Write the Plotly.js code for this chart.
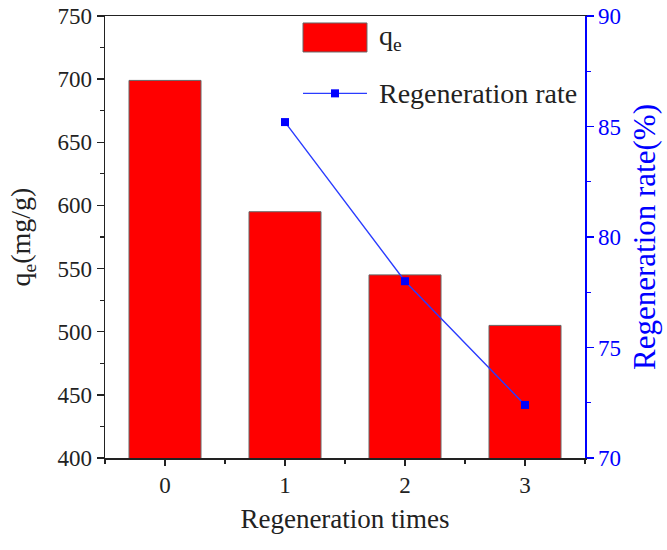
<!DOCTYPE html>
<html>
<head>
<meta charset="utf-8">
<script src="https://cdn.plot.ly/plotly-3.0.1.min.js"></script>
<style>html,body{margin:0;padding:0;background:#fff;}</style>
</head>
<body>
<div id="chart" style="width:667px;height:550px;"></div>
<script>
const times = [0, 1, 2, 3];
const qe = [699, 595, 545, 505];
const rateTimes = [1, 2, 3];
const regenRate = [85.2, 78.0, 72.4];

const FONT = '"Liberation Serif", "Times New Roman", serif';

const traces = [
  {
    type: 'bar', x: times, y: qe, name: 'q<sub>e</sub>',
    marker: {color: '#ff0000', line: {color: '#666666', width: 1}},
    showlegend: false, yaxis: 'y'
  },
  {
    type: 'scatter', mode: 'lines+markers', x: rateTimes, y: regenRate,
    name: 'Regeneration rate', yaxis: 'y2',
    line: {color: '#2a3cff', width: 1.4},
    marker: {symbol: 'square', size: 8, color: '#0000ff'},
    showlegend: false
  }
];

const layout = {
  width: 667, height: 550,
  margin: {l: 105, r: 82, t: 16, b: 92},
  paper_bgcolor: '#fff', plot_bgcolor: '#fff',
  font: {family: FONT, color: '#222'},
  bargap: 0.4,
  xaxis: {
    range: [-0.5, 3.5], tickvals: times, ticktext: times.map(String),
    showline: true, linecolor: '#222', linewidth: 1.5, mirror: true,
    ticks: 'outside', ticklen: 6, tickwidth: 1.5, tickcolor: '#222',
    minor: {dtick: 0.5, tick0: 0.5, ticks: 'outside', ticklen: 4, tickwidth: 1.2, tickcolor: '#222'},
    showgrid: false, zeroline: false,
    tickfont: {size: 23, family: FONT, color: '#222'},
    title: {text: 'Regeneration times', font: {size: 27, family: FONT, color: '#222'}, standoff: 12}
  },
  yaxis: {
    range: [400, 750], dtick: 50,
    showline: true, linecolor: '#222', linewidth: 1.5,
    ticks: 'outside', ticklen: 7, tickwidth: 1.5, tickcolor: '#222',
    minor: {dtick: 25, ticks: 'outside', ticklen: 4, tickwidth: 1.2, tickcolor: '#222'},
    showgrid: false, zeroline: false,
    tickfont: {size: 23, family: FONT, color: '#222'},
    title: {text: 'q<sub>e</sub>(mg/g)', font: {size: 28, family: FONT, color: '#222'}, standoff: 18}
  },
  yaxis2: {
    overlaying: 'y', side: 'right', range: [70, 90], dtick: 5,
    showline: true, linecolor: '#0000ff', linewidth: 1.5,
    ticks: 'outside', ticklen: 7, tickwidth: 1.5, tickcolor: '#0000ff',
    minor: {dtick: 2.5, ticks: 'outside', ticklen: 4, tickwidth: 1.2, tickcolor: '#0000ff'},
    showgrid: false, zeroline: false,
    tickfont: {size: 23, family: FONT, color: '#0000ff'},
    title: {text: 'Regeneration rate(%)', font: {size: 31, family: FONT, color: '#0000ff'}, standoff: 13}
  },
  shapes: [
    {type: 'rect', xref: 'paper', yref: 'paper', x0: 0.4125, x1: 0.5458, y0: 0.9186, y1: 0.9842,
     fillcolor: '#ff0000', line: {color: '#666666', width: 1}},
    {type: 'line', xref: 'paper', yref: 'paper', x0: 0.4125, x1: 0.5458, y0: 0.825, y1: 0.825,
     line: {color: '#2a3cff', width: 1.4}},
    {type: 'rect', xref: 'paper', yref: 'paper', x0: 0.4708, x1: 0.4875, y0: 0.8159, y1: 0.8341,
     fillcolor: '#0000ff', line: {width: 0}}
  ],
  annotations: [
    {xref: 'paper', yref: 'paper', x: 0.5667, y: 0.951, xanchor: 'left', yanchor: 'middle',
     text: 'q<sub>e</sub>', showarrow: false, font: {size: 28, family: FONT, color: '#222'}},
    {xref: 'paper', yref: 'paper', x: 0.5667, y: 0.825, xanchor: 'left', yanchor: 'middle',
     text: 'Regeneration rate', showarrow: false, font: {size: 28, family: FONT, color: '#222'}}
  ]
};

Plotly.newPlot('chart', traces, layout, {displayModeBar: false, staticPlot: true});
</script>
</body>
</html>
